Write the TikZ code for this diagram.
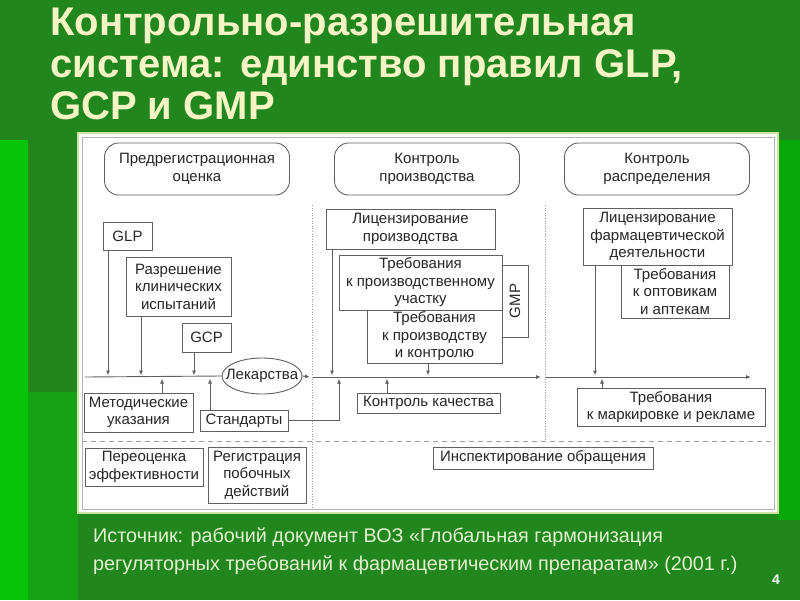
\documentclass[tikz,border=0pt]{standalone}
\usepackage{fontspec}
\setmainfont{Liberation Sans}
\usetikzlibrary{arrows.meta,shapes.geometric}
\definecolor{slidegreen}{RGB}{34,134,30}
\definecolor{brightgreen}{RGB}{8,196,8}
\definecolor{midgreen}{RGB}{22,160,20}
\definecolor{titleyellow}{RGB}{244,244,196}
\definecolor{srcgreen}{RGB}{226,242,206}
\definecolor{panelrim}{RGB}{206,228,160}
\definecolor{linegray}{RGB}{96,96,96}
\definecolor{textgray}{RGB}{38,38,38}
\begin{document}
\begin{tikzpicture}[x=1pt,y=-1pt,
    >={Latex[length=5pt,width=4pt]},
    box/.style={draw=linegray, line width=0.9pt, fill=white, text=textgray,
      align=center, inner sep=1pt, font=\fontsize{15}{17.5}\selectfont},
    head/.style={box, rounded corners=14pt, minimum width=185, minimum height=52},
    flow/.style={draw=linegray, line width=0.9pt},
    sep/.style={draw=gray!75, line width=0.6pt}]
    % slide background
    \fill[slidegreen] (0,0) rectangle (800,600);
    \fill[brightgreen] (0,140) rectangle (28,600);
    \fill[midgreen] (28,392) rectangle (78,600);
    \fill[brightgreen!85!black] (778,140) rectangle (800,520);

    % title
    \node[anchor=north west, align=left, inner sep=0, text=titleyellow,
      font=\bfseries\fontsize{40}{42}\selectfont] (title) at (50,8)
      {Контрольно-разрешительная\\система: единство правил GLP,\\GCP и GMP};

    % panel
    \draw[panelrim, line width=2.5pt, fill=white] (78,133) rectangle (778,513);
    \draw[gray!60, line width=0.6pt] (82,137) rectangle (774,509);

    % column heads
    \node[head] (pre) at (197,169) {Предрегистрационная\\оценка};
    \node[head] (prod) at (427,169) {Контроль\\производства};
    \node[head] (dist) at (657,169) {Контроль\\распределения};

    % separators
    \draw[sep, dotted] (312,205) -- (312,510);
    \draw[sep, dotted] (545,205) -- (545,441);
    \draw[sep, dash pattern=on 5pt off 4pt] (82,441) -- (774,441);

    % pre-registration
    \node[box, minimum width=49, minimum height=28] (glp) at (127.5,236) {GLP};
    \node[box, minimum width=105, minimum height=59] (razr) at (178.5,286.5) {Разрешение\\клинических\\испытаний};
    \node[box, minimum width=49, minimum height=29] (gcp) at (206.5,337.5) {GCP};
    \node[draw=linegray, line width=0.9pt, ellipse, fill=white, text=textgray,
      inner xsep=-8pt, inner ysep=4pt, minimum width=80, minimum height=36,
      font=\fontsize{15}{17}\selectfont] (lek) at (262,376) {Лекарства};
    \node[box, minimum width=109, minimum height=39] (metod) at (138.5,412.5) {Методические\\указания};
    \node[box, minimum width=88, minimum height=21] (stand) at (244,420.5) {Стандарты};
    \node[box, minimum width=118, minimum height=38] (pereoc) at (144,467) {Переоценка\\эффективности};
    \node[box, minimum width=98, minimum height=56] (regis) at (257,475) {Регистрация\\побочных\\действий};

    % production
    \node[box, minimum width=26, minimum height=72] (gmp) at (515,301) {\rotatebox{90}{GMP}};
    \node[box, minimum width=169, minimum height=40] (lic) at (410.5,229) {Лицензирование\\производства};
    \node[box, minimum width=163, minimum height=55] (uch) at (420.5,282.5) {Требования\\к производственному\\участку};
    \node[box, minimum width=135, minimum height=53] (kontr) at (434.5,336.5) {Требования\\к производству\\и контролю};
    \node[box, minimum width=143, minimum height=20] (kach) at (428.5,403) {Контроль качества};

    % distribution
    \node[box, minimum width=149, minimum height=57] (licf) at (657.5,236.5) {Лицензирование\\фармацевтической\\деятельности};
    \node[box, minimum width=108, minimum height=53] (opt) at (675,291.5) {Требования\\к оптовикам\\и аптекам};
    \node[box, minimum width=188, minimum height=38] (mark) at (671,407) {Требования\\к маркировке и рекламе};
    \node[box, minimum width=220, minimum height=22] (insp) at (543,458) {Инспектирование обращения};

    % main line
    \coordinate (bus0) at (85,377);
    \coordinate (bus1) at (310,377);
    \coordinate (bus2) at (313,377);
    \coordinate (bus3) at (541,377);
    \coordinate (bus4) at (546,377);
    \coordinate (bus5) at (751,377);
    \draw[flow] (bus0) -- (lek.west);
    \draw[flow,->] (lek.east) -- (bus1);
    \draw[flow,->] (bus2) -- (bus3);
    \draw[flow,->] (bus4) -- (bus5);

    % inputs from above
    \foreach \n/\x in {glp/108,razr/141,gcp/194,lic/332,kontr/428,licf/595}{
      \coordinate (b-\n) at (\x,377);
      \draw[flow,->,shorten >=1.5pt] (\n.south -| b-\n) -- (b-\n);
    }
    % inputs from below
    \foreach \n/\x in {metod/162,stand/210,kach/387,mark/602}{
      \coordinate (b-\n) at (\x,377);
      \draw[flow,->,shorten >=1.5pt] (\n.north -| b-\n) -- (b-\n);
    }
    \coordinate (b-std) at (339,377);
    \draw[flow,->,shorten >=1.5pt] (stand.east) -| (b-std);

    % source
    \node[anchor=north west, align=left, inner sep=0, text=srcgreen,
      font=\fontsize{19.8}{28}\selectfont] (src) at (93,528)
      {Источник: рабочий документ ВОЗ «Глобальная гармонизация\\регуляторных требований к фармацевтическим препаратам» (2001 г.)};
    \node[text=white, font=\bfseries\fontsize{14}{16}\selectfont, inner sep=0] (page) at (776,580) {4};
\end{tikzpicture}
\end{document}
